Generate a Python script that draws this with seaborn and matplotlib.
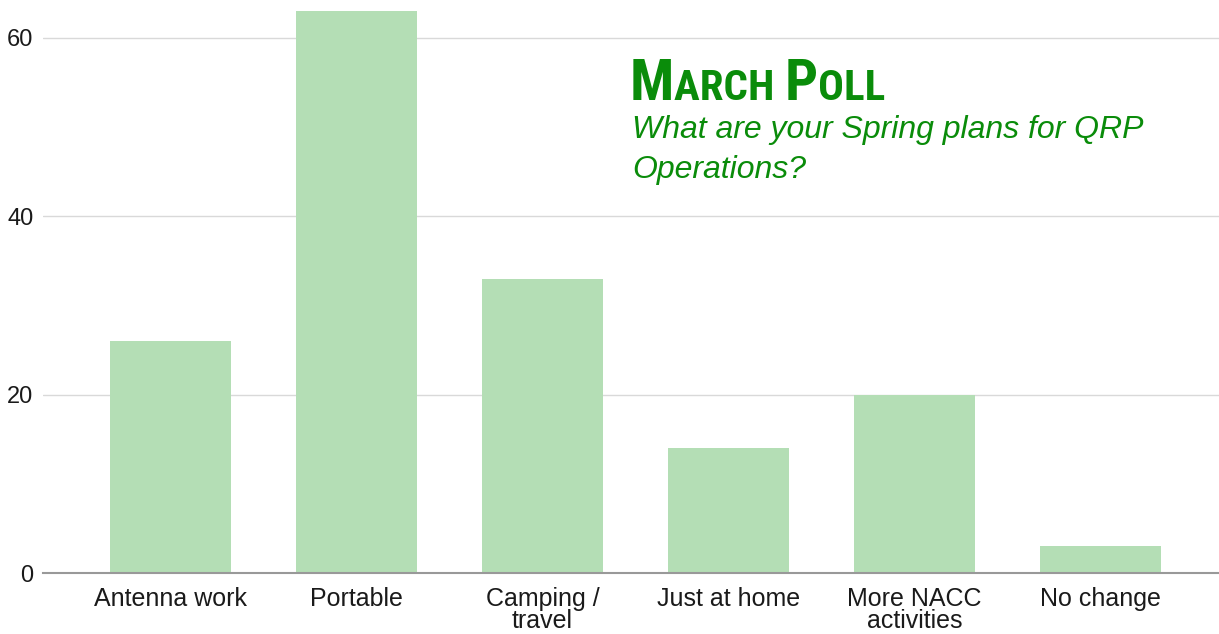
import matplotlib
matplotlib.use("Agg")
import matplotlib.pyplot as plt
import seaborn as sns
import pandas as pd

categories = ["Antenna work", "Portable", "Camping /\ntravel", "Just at home",
              "More NACC\nactivities", "No change"]
values = [26, 63, 33, 14, 20, 3]
yticks = [0, 20, 40, 60]

sns.set_theme(style="white")
plt.rcParams['font.family'] = ['Liberation Sans', 'DejaVu Sans']

W, H = 1219, 634
fig = plt.figure(figsize=(W / 100, H / 100), dpi=100)
ax = fig.add_axes([43 / W, (H - 573) / H, (W - 43) / W, 573 / H])

df = pd.DataFrame({"cat": categories, "val": values})
sns.barplot(data=df, x="cat", y="val", color="#b4deb5", saturation=1,
            width=0.65, ax=ax, zorder=2, linewidth=0, edgecolor="none")

ax.set_ylim(0, 573 / (535 / 60))
ax.set_xlim(-0.686, 5.637)
ax.set_yticks(yticks)
ax.set_yticklabels([str(t) for t in yticks])
ax.set_xlabel("")
ax.set_ylabel("")
ax.grid(axis="y", color="#d9d9d9", linewidth=1, zorder=0)
ax.set_axisbelow(True)
for s in ["top", "right", "left"]:
    ax.spines[s].set_visible(False)
ax.spines["bottom"].set_color("#999999")
ax.spines["bottom"].set_linewidth(1.5)
ax.spines["bottom"].set_zorder(3)
ax.tick_params(axis="x", length=0, pad=10, labelsize=18, labelcolor="#1a1a1a")
ax.tick_params(axis="y", length=0, pad=7, labelsize=17, labelcolor="#1a1a1a")
for lbl in ax.get_xticklabels():
    lbl.set_linespacing(0.92)
    lbl.set_verticalalignment("top")

# Title with small caps
green = "#0a8c0a"
renderer = fig.canvas.get_renderer()
x = 630
base_y = H - 100
parts = [("M", 42), ("ARCH ", 31), ("P", 42), ("OLL", 31)]
for txt, size in parts:
    t = fig.text(x / W, base_y / H, txt, fontsize=size, fontweight="bold",
                 color=green, va="baseline", ha="left",
                 family=["Roboto Condensed", "Liberation Sans Narrow", "Roboto"])
    ext = t.get_window_extent(renderer)
    x = ext.x1
fig.text(632 / W, (H - 138) / H, "What are your Spring plans for QRP",
         fontsize=23, style="italic", color=green, va="baseline", ha="left")
fig.text(632 / W, (H - 178) / H, "Operations?",
         fontsize=23, style="italic", color=green, va="baseline", ha="left")

fig.savefig("out.png", dpi=100, facecolor="white")
